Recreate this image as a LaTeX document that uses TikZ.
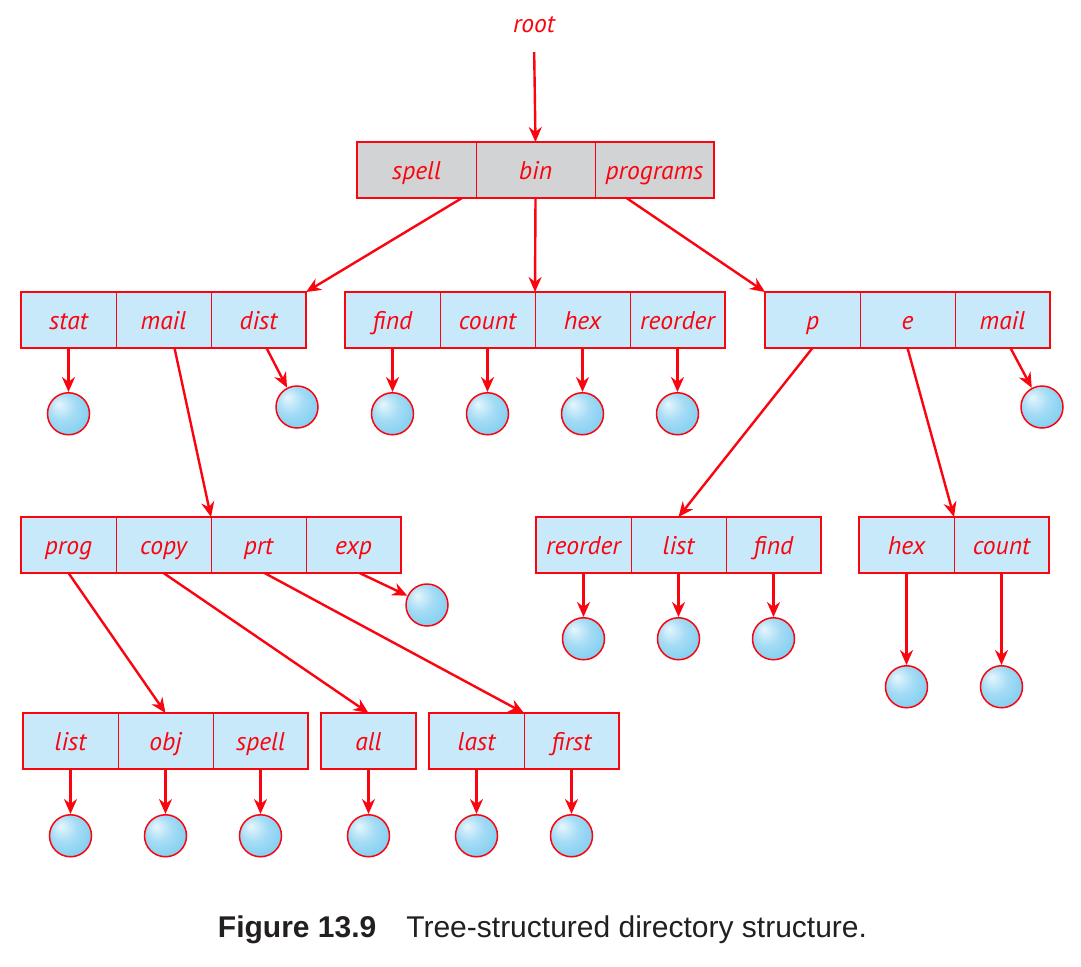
\documentclass[tikz,border=0pt]{standalone}
\usepackage{fontspec}
\setmainfont{Liberation Sans}
\newfontfamily\labelfont{PT Sans}
\usetikzlibrary{positioning,arrows.meta}

\definecolor{treered}{RGB}{250,5,15}
\definecolor{cellblue}{RGB}{199,233,249}
\definecolor{cellgray}{RGB}{209,211,212}
\definecolor{ballhi}{RGB}{230,246,253}
\definecolor{ballmid}{RGB}{165,220,245}
\definecolor{balledge}{RGB}{105,198,238}
\definecolor{captiontext}{RGB}{35,31,32}

\pgfdeclareradialshading{fileball}{\pgfqpoint{-12bp}{12bp}}{%
  color(0bp)=(ballhi); color(16bp)=(ballmid); color(42bp)=(balledge); color(50bp)=(balledge)}

\begin{document}
\begin{tikzpicture}[
    x=0.5pt, y=-0.5pt,
    node distance=0pt,
    cell/.style={
        draw=treered,
        line width=0.5pt,
        fill=cellblue,
        outer sep=0pt,
        inner sep=0pt,
        minimum width=47.5pt,
        minimum height=28pt,
        text height=11pt,
        text depth=2pt,
        text=treered,
        font=\labelfont\itshape\fontsize{12.8}{14}\selectfont
    },
    topcell/.style={cell, fill=cellgray, minimum width=59.5pt},
    leaf/.style={circle, draw=treered, line width=0.75pt, shading=fileball,
        minimum size=21pt, inner sep=0pt},
    box/.style={draw=treered, line width=1.1pt},
    arrow/.style={-{Stealth[length=7.5pt,width=6.5pt]}, draw=treered, line width=1.2pt}
]
\useasboundingbox (0,0) rectangle (1081,966);

\node[text=treered, font=\labelfont\itshape\fontsize{12.8}{14}\selectfont] (root) at (534,25) {root};

% top directory
\node[topcell] (spell) at (416.5,170) {spell};
\node[topcell, right=of spell] (bin) {bin};
\node[topcell, right=of bin] (programs) {programs};
\draw[box] (spell.north west) rectangle (programs.south east);

% second level
\node[cell] (stat) at (68.5,320) {stat};
\node[cell, right=of stat] (mail) {mail};
\node[cell, right=of mail] (dist) {dist};
\draw[box] (stat.north west) rectangle (dist.south east);

\node[cell] (find) at (392.5,320) {find};
\node[cell, right=of find] (count) {count};
\node[cell, right=of count] (hex) {hex};
\node[cell, right=of hex] (reorder) {reorder};
\draw[box] (find.north west) rectangle (reorder.south east);

\node[cell] (p) at (812.5,320) {p};
\node[cell, right=of p] (e) {e};
\node[cell, right=of e] (pmail) {mail};
\draw[box] (p.north west) rectangle (pmail.south east);

% third level
\node[cell] (prog) at (68.5,545) {prog};
\node[cell, right=of prog] (copy) {copy};
\node[cell, right=of copy] (prt) {prt};
\node[cell, right=of prt] (exp) {exp};
\draw[box] (prog.north west) rectangle (exp.south east);

\node[cell] (preorder) at (583.5,545) {reorder};
\node[cell, right=of preorder] (plist) {list};
\node[cell, right=of plist] (pfind) {find};
\draw[box] (preorder.north west) rectangle (pfind.south east);

\node[cell] (ehex) at (906.5,545) {hex};
\node[cell, right=of ehex] (ecount) {count};
\draw[box] (ehex.north west) rectangle (ecount.south east);

% fourth level
\node[cell] (list) at (70.5,741) {list};
\node[cell, right=of list] (obj) {obj};
\node[cell, right=of obj] (ospell) {spell};
\draw[box] (list.north west) rectangle (ospell.south east);

\node[cell] (all) at (368.5,741) {all};
\draw[box] (all.north west) rectangle (all.south east);

\node[cell] (last) at (476.5,741) {last};
\node[cell, right=of last] (first) {first};
\draw[box] (last.north west) rectangle (first.south east);

% files
\node[leaf, below=22pt of stat] (stat-f) {};
\node[leaf] (dist-f) at (297,407) {};
\node[leaf, below=22pt of find] (find-f) {};
\node[leaf, below=22pt of count] (count-f) {};
\node[leaf, below=22pt of hex] (hex-f) {};
\node[leaf, below=22pt of reorder] (reorder-f) {};
\node[leaf] (pmail-f) at (1042,407) {};
\node[leaf] (exp-f) at (427,605) {};
\node[leaf, below=22pt of preorder] (preorder-f) {};
\node[leaf, below=22pt of plist] (plist-f) {};
\node[leaf, below=22pt of pfind] (pfind-f) {};
\node[leaf, below=46pt of ehex] (ehex-f) {};
\node[leaf, below=46pt of ecount] (ecount-f) {};
\node[leaf, below=22.5pt of list] (list-f) {};
\node[leaf, below=22.5pt of obj] (obj-f) {};
\node[leaf, below=22.5pt of ospell] (ospell-f) {};
\node[leaf, below=22.5pt of all] (all-f) {};
\node[leaf, below=22.5pt of last] (last-f) {};
\node[leaf, below=22.5pt of first] (first-f) {};

% links between directories
\draw[arrow, shorten <=6pt] (root.south) -- (bin.north);
\draw[arrow] ([xshift=-7pt]spell.south east) -- (dist.north east);
\draw[arrow] (bin.south) -- (count.north east);
\draw[arrow] ([xshift=-14pt]programs.south) -- (p.north west);
\draw[arrow] ([xshift=5.5pt]mail.south) -- (prt.north west);
\draw[arrow] (p.south) -- (plist.north);
\draw[arrow] (e.south) -- (ecount.north west);
\draw[arrow] (prog.south) -- (obj.north);
\draw[arrow] (copy.south) -- (all.north);
\draw[arrow] ([xshift=3pt]prt.south) -- (first.north west);

% links to files
\draw[arrow] (stat.south) -- (stat-f);
\draw[arrow] ([xshift=4pt]dist.south) -- (dist-f);
\draw[arrow] (find.south) -- (find-f);
\draw[arrow] (count.south) -- (count-f);
\draw[arrow] (hex.south) -- (hex-f);
\draw[arrow] (reorder.south) -- (reorder-f);
\draw[arrow] ([xshift=4pt]pmail.south) -- (pmail-f);
\draw[arrow] ([xshift=3pt]exp.south) -- (exp-f);
\draw[arrow] (preorder.south) -- (preorder-f);
\draw[arrow] (plist.south) -- (plist-f);
\draw[arrow] (pfind.south) -- (pfind-f);
\draw[arrow] (ehex.south) -- (ehex-f);
\draw[arrow] (ecount.south) -- (ecount-f);
\draw[arrow] (list.south) -- (list-f);
\draw[arrow] (obj.south) -- (obj-f);
\draw[arrow] (ospell.south) -- (ospell-f);
\draw[arrow] (all.south) -- (all-f);
\draw[arrow] (last.south) -- (last-f);
\draw[arrow] (first.south) -- (first-f);

\node[text=captiontext, font=\fontsize{15}{18}\selectfont] (caption) at (542.5,930)
    {\textbf{Figure 13.9}\quad Tree-structured directory structure.};

\end{tikzpicture}
\end{document}
